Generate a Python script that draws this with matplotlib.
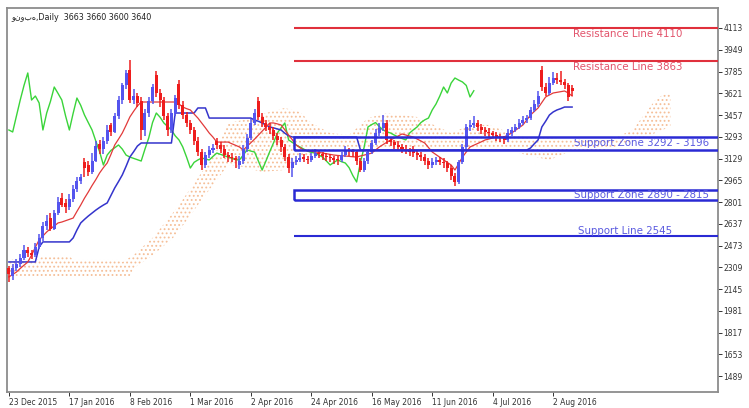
import matplotlib
matplotlib.use('Agg')
import matplotlib.pyplot as plt
import numpy as np
from matplotlib.patches import Rectangle

# ---------------- data ----------------
title_text = "ونوبه,Daily  3663 3660 3600 3640"
date_labels = ['23 Dec 2015', '17 Jan 2016', '8 Feb 2016', '1 Mar 2016', '2 Apr 2016',
               '24 Apr 2016', '16 May 2016', '11 Jun 2016', '4 Jul 2016', '2 Aug 2016']
date_tick_bars = [0, 16, 32, 48, 64, 80, 96, 112, 128, 144]
price_ticks = [4113, 3949, 3785, 3621, 3457, 3293, 3129, 2965, 2801, 2637, 2473,
               2309, 2145, 1981, 1817, 1653, 1489]

opens = [2300,2240,2300,2330,2380,2440,2420,2400,2460,2530,
         2620,2680,2600,2720,2830,2790,2760,2820,2900,2960,
         3100,3080,3030,3110,3240,3200,3260,3380,3329,3450,
         3570,3680,3800,3570,3600,3560,3344,3472,3560,3760,
         3620,3570,3450,3344,3470,3690,3530,3457,3400,3344,
         3260,3180,3080,3155,3190,3260,3231,3200,3155,3140,
         3130,3080,3110,3200,3284,3400,3560,3440,3397,3370,
         3344,3300,3269,3216,3140,3057,3100,3118,3140,3125,
         3118,3145,3170,3160,3150,3140,3130,3120,3118,3155,
         3193,3185,3178,3110,3042,3110,3180,3246,3321,3360,
         3397,3269,3250,3230,3216,3200,3185,3200,3170,3155,
         3140,3110,3080,3100,3118,3105,3095,3060,3000,2952,
         3100,3216,3367,3385,3400,3370,3344,3330,3321,3305,
         3291,3280,3269,3321,3345,3367,3400,3420,3434,3495,
         3540,3800,3668,3623,3698,3736,3720,3706,3680,3663]
closes = [2260,2300,2330,2380,2440,2420,2400,2460,2530,2620,
          2660,2600,2720,2800,2780,2760,2820,2900,2960,2990,
          3060,3030,3110,3220,3200,3260,3344,3329,3450,3570,
          3680,3774,3570,3600,3548,3344,3472,3560,3668,3620,
          3570,3450,3344,3470,3585,3530,3457,3400,3344,3260,
          3180,3080,3155,3190,3210,3231,3200,3155,3140,3130,
          3120,3110,3200,3284,3400,3472,3440,3397,3370,3344,
          3300,3269,3216,3140,3057,3100,3118,3133,3125,3118,
          3145,3170,3160,3150,3140,3130,3120,3118,3155,3193,
          3185,3178,3110,3042,3110,3180,3246,3321,3360,3397,
          3269,3250,3230,3216,3200,3185,3175,3170,3155,3140,
          3110,3080,3100,3118,3105,3095,3060,3000,2952,3100,
          3216,3367,3385,3400,3370,3344,3330,3321,3305,3291,
          3280,3269,3321,3345,3367,3400,3420,3434,3495,3540,
          3600,3668,3623,3698,3736,3720,3706,3680,3593,3640]
highs = [2320,2330,2370,2410,2480,2460,2440,2490,2560,2650,
         2700,2720,2740,2840,2870,2820,2860,2930,2990,3010,
         3130,3110,3170,3260,3270,3290,3380,3400,3470,3600,
         3700,3800,3870,3650,3620,3590,3500,3590,3690,3790,
         3650,3590,3470,3500,3610,3720,3560,3480,3420,3370,
         3290,3200,3180,3220,3240,3280,3250,3230,3180,3170,
         3150,3150,3230,3310,3430,3500,3590,3470,3420,3400,
         3370,3320,3290,3240,3160,3130,3150,3170,3160,3150,
         3170,3200,3190,3180,3170,3160,3150,3150,3180,3220,
         3210,3200,3190,3130,3130,3200,3270,3350,3400,3460,
         3420,3290,3270,3260,3240,3230,3210,3220,3190,3180,
         3160,3130,3130,3140,3140,3130,3110,3080,3020,3120,
         3240,3390,3420,3450,3420,3390,3370,3360,3340,3330,
         3310,3300,3350,3370,3390,3430,3450,3460,3520,3570,
         3640,3830,3700,3740,3780,3770,3790,3730,3700,3680]
lows = [2200,2210,2280,2310,2360,2390,2370,2390,2450,2510,
        2590,2580,2590,2700,2760,2720,2740,2800,2880,2940,
        2990,3000,3010,3100,3160,3160,3240,3300,3320,3430,
        3540,3650,3550,3540,3520,3270,3300,3440,3540,3590,
        3520,3420,3300,3320,3450,3500,3430,3370,3310,3230,
        3150,3040,3060,3130,3170,3200,3170,3130,3100,3100,
        3060,3050,3090,3180,3270,3380,3420,3370,3340,3310,
        3270,3230,3180,3110,3020,2990,3080,3100,3100,3090,
        3100,3130,3130,3120,3110,3100,3090,3080,3100,3140,
        3150,3140,3080,3030,3030,3090,3160,3230,3300,3340,
        3240,3220,3200,3190,3170,3160,3150,3140,3120,3110,
        3080,3050,3060,3080,3080,3060,3030,2970,2925,2940,
        3090,3200,3340,3360,3340,3310,3300,3290,3280,3260,
        3250,3240,3250,3300,3330,3350,3380,3400,3420,3480,
        3520,3640,3600,3610,3680,3690,3680,3650,3560,3600]

tenkan = [2236,2255,2273,2300,2325,2349,2400,2460,2515,2545,
          2575,2600,2620,2643,2650,2660,2670,2680,2730,2778,
          2830,2876,2925,2970,3020,3060,3095,3160,3231,3275,
          3321,3380,3442,3485,3525,3555,3555,3555,3555,3555,
          3555,3555,3555,3555,3555,3540,3517,3505,3495,3465,
          3434,3397,3360,3321,3290,3253,3253,3253,3253,3240,
          3228,3216,3193,3220,3246,3275,3305,3336,3365,3397,
          3397,3390,3382,3345,3306,3270,3231,3210,3193,3188,
          3183,3178,3175,3170,3165,3160,3155,3152,3150,3148,
          3145,3142,3140,3148,3155,3162,3170,3193,3216,3234,
          3252,3269,3284,3299,3314,3306,3298,3291,3276,3261,
          3246,3212,3178,3158,3138,3118,3099,3080,3042,3090,
          3140,3178,3216,3229,3242,3255,3269,3276,3284,3291,
          3291,3291,3306,3321,3341,3361,3382,3420,3457,3484,
          3510,3552,3593,3608,3623,3628,3633,3638,3623,3600]
kijun = ([2349]*8 + [2462] + [2500]*8 +
         [2530,2590,2643,2670,2695,2718,2740,2760,2778,2794,2850,2907,2955,3005,3070,3140,3180,3223] +
         [3246]*9 + [3472]*6 + [3510]*3 + [3434]*12 +
         [3419,3410,3397,3382,3367,3360,3352,3344,3320,3300] +
         [3291]*18 + [3193]*45 +
         [3208,3240,3269,3367,3410,3457,3480,3495,3505] + [3517]*3)
span_upper = ([2371]*9 + [2394]*8 + [2364]*13 +
              [2349,2366,2384,2401,2427,2453,2479,2505,2530,2565,
               2600,2635,2670,2705,2741,2781,2821,2861,2901,2941,
               2982,3024,3066,3108,3150,3193,3260,3330,3397,3402,
               3408,3414,3419,3428,3437,3446,3456,3465,3472,3480,
               3488,3495,3503,3510,3502,3495,3488,3480,3452,3425,
               3397,3382,3366,3351,3336,3321,3318,3315,3312,3309,
               3306,3332,3357,3383,3408,3434,3442,3449,3457,3465,
               3472,3468,3464,3460,3457,3453,3449,3446,3442,3428,
               3415,3401,3388,3374,3361,3348,3334,3321,3333,3345,
               3357,3370,3382,3382,3382,3382,3382,3382,3371,3361,
               3350,3340,3329,3320,3311,3302,3293,3284,3284,3284,
               3284,3284,3284,3284,3281,3278,3275,3272,3269,3269,
               3269,3269,3269,3269,3269,3269,3269,3269,3269,3278,
               3287,3296,3306,3319,3331,3344,3382,3419,3457,3495,
               3532,3570,3589,3608,3615,3623])
span_lower = ([2243]*33 +
              [2303,2322,2341,2360,2379,2398,2422,
               2447,2471,2496,2520,2545,2584,2623,2661,2700,2739,
               2778,2816,2854,2892,2929,2967,3005,3042,3080,3076,
               3072,3069,3065,3057,3050,3042,3035,3027,3030,3032,
               3035,3037,3040,3042,3061,3080,3099,3118,3130,3143,
               3155,3163,3170,3178,3185,3193,3196,3199,3202,3205,
               3208] + [3193]*42 +
              [3185,3178,3170,3163,3155,3149,3143,
               3137,3130,3124,3118,3130,3142,3154,3166,3178,3181,
               3184,3187,3190,3193,3193,3193,3193,3193,3193,3203,
               3212,3222,3231,3241,3251,3261,3269,3276,3284,3296,
               3309,3321,3333,3344,3359,3374])
chikou_shift = 26

resistance_levels = [4110, 3863]
resistance_labels = ['Resistance Line 4110', 'Resistance Line 3863']
support_zones = [(3196, 3292), (2815, 2890)]
support_zone_labels = ['Support Zone 3292 - 3196', 'Support Zone 2890 - 2815']
support_line = 2545
support_line_label = 'Support Line 2545'
levels_start_bar = 75.4

# ---------------- style ----------------
plt.rcParams['font.family'] = ['DejaVu Sans']
plt.rcParams['hatch.linewidth'] = 0.8
BULL = '#5454ee'
BEAR = '#ee1c1c'
RED_LINE = '#e23a3a'
BLUE_LINE = '#3434cc'
GREEN = '#3ad43a'
CLOUD = '#f5bf98'
RES_C = '#e0303c'
SUP_C = '#2a2ad4'
RES_TXT = '#e2546c'
SUP_TXT = '#5a5ae0'

fig = plt.figure(figsize=(7.49, 4.08), dpi=100)
ax = fig.add_axes([7/749, 16/408, 711/749, 384/408])
ax.set_xlim(-0.5, 187.6)
ax.set_ylim(1368.4, 4263.8)

# cloud
xc = np.arange(len(span_upper))
ax.fill_between(xc, span_lower, span_upper, facecolor='none', edgecolor=CLOUD,
                hatch='....', linewidth=0, zorder=1)

# chikou span (close shifted back)
n = len(closes)
xg = np.arange(chikou_shift, n) - chikou_shift
ax.plot(xg, closes[chikou_shift:], color=GREEN, lw=1.0, zorder=3)

# tenkan / kijun
xb = np.arange(n)
ax.plot(xb, kijun, color=BLUE_LINE, lw=1.1, zorder=3)
ax.plot(xb, tenkan, color=RED_LINE, lw=0.9, zorder=3)

# candles
for i in range(n):
    o, h, l, c = opens[i], highs[i], lows[i], closes[i]
    col = BULL if c >= o else BEAR
    ax.vlines(i, l, h, color=col, lw=1.1, zorder=4)
    body = max(abs(c - o), 10)
    ax.bar(i, body, bottom=min(o, c), width=0.8, color=col, linewidth=0, zorder=4)

# levels
right = 300
for lev in resistance_levels:
    ax.hlines(lev, levels_start_bar, right, color=RES_C, lw=1.5, zorder=5)
for lo, hi in support_zones:
    ax.add_patch(Rectangle((levels_start_bar, lo), right, hi - lo, fill=False,
                           edgecolor=SUP_C, lw=1.8, zorder=5))
ax.hlines(support_line, levels_start_bar, right, color=SUP_C, lw=1.5, zorder=5)

# labels
fs = 7.4
ax.text(149.2, 4071, resistance_labels[0], color=RES_TXT, fontsize=fs, va='center', ha='left', zorder=6)
ax.text(149.2, 3819, resistance_labels[1], color=RES_TXT, fontsize=fs, va='center', ha='left', zorder=6)
ax.text(149.4, 3244, support_zone_labels[0], color=SUP_TXT, fontsize=fs, va='center', ha='left', zorder=6)
ax.text(149.4, 2852, support_zone_labels[1], color=SUP_TXT, fontsize=fs, va='center', ha='left', zorder=6)
ax.text(150.5, 2584, support_line_label, color=SUP_TXT, fontsize=fs, va='center', ha='left', zorder=6)

ax.text(0.006, 0.988, title_text, transform=ax.transAxes, fontsize=5.8,
        color='#222222', va='top', ha='left')

# axes
ax.yaxis.tick_right()
ax.set_yticks(price_ticks)
ax.set_yticklabels([str(v) for v in price_ticks])
ax.set_xticks(date_tick_bars)
ax.set_xticklabels(date_labels, ha='left')
ax.tick_params(axis='both', labelsize=5.5, colors='#333333', length=3, width=0.7, direction='out', pad=1.5)
ax.tick_params(axis='y', pad=1)
for s in ax.spines.values():
    s.set_color('#8c8c8c')
    s.set_linewidth(1.3)

fig.savefig('out.png', dpi=100, facecolor='white')
